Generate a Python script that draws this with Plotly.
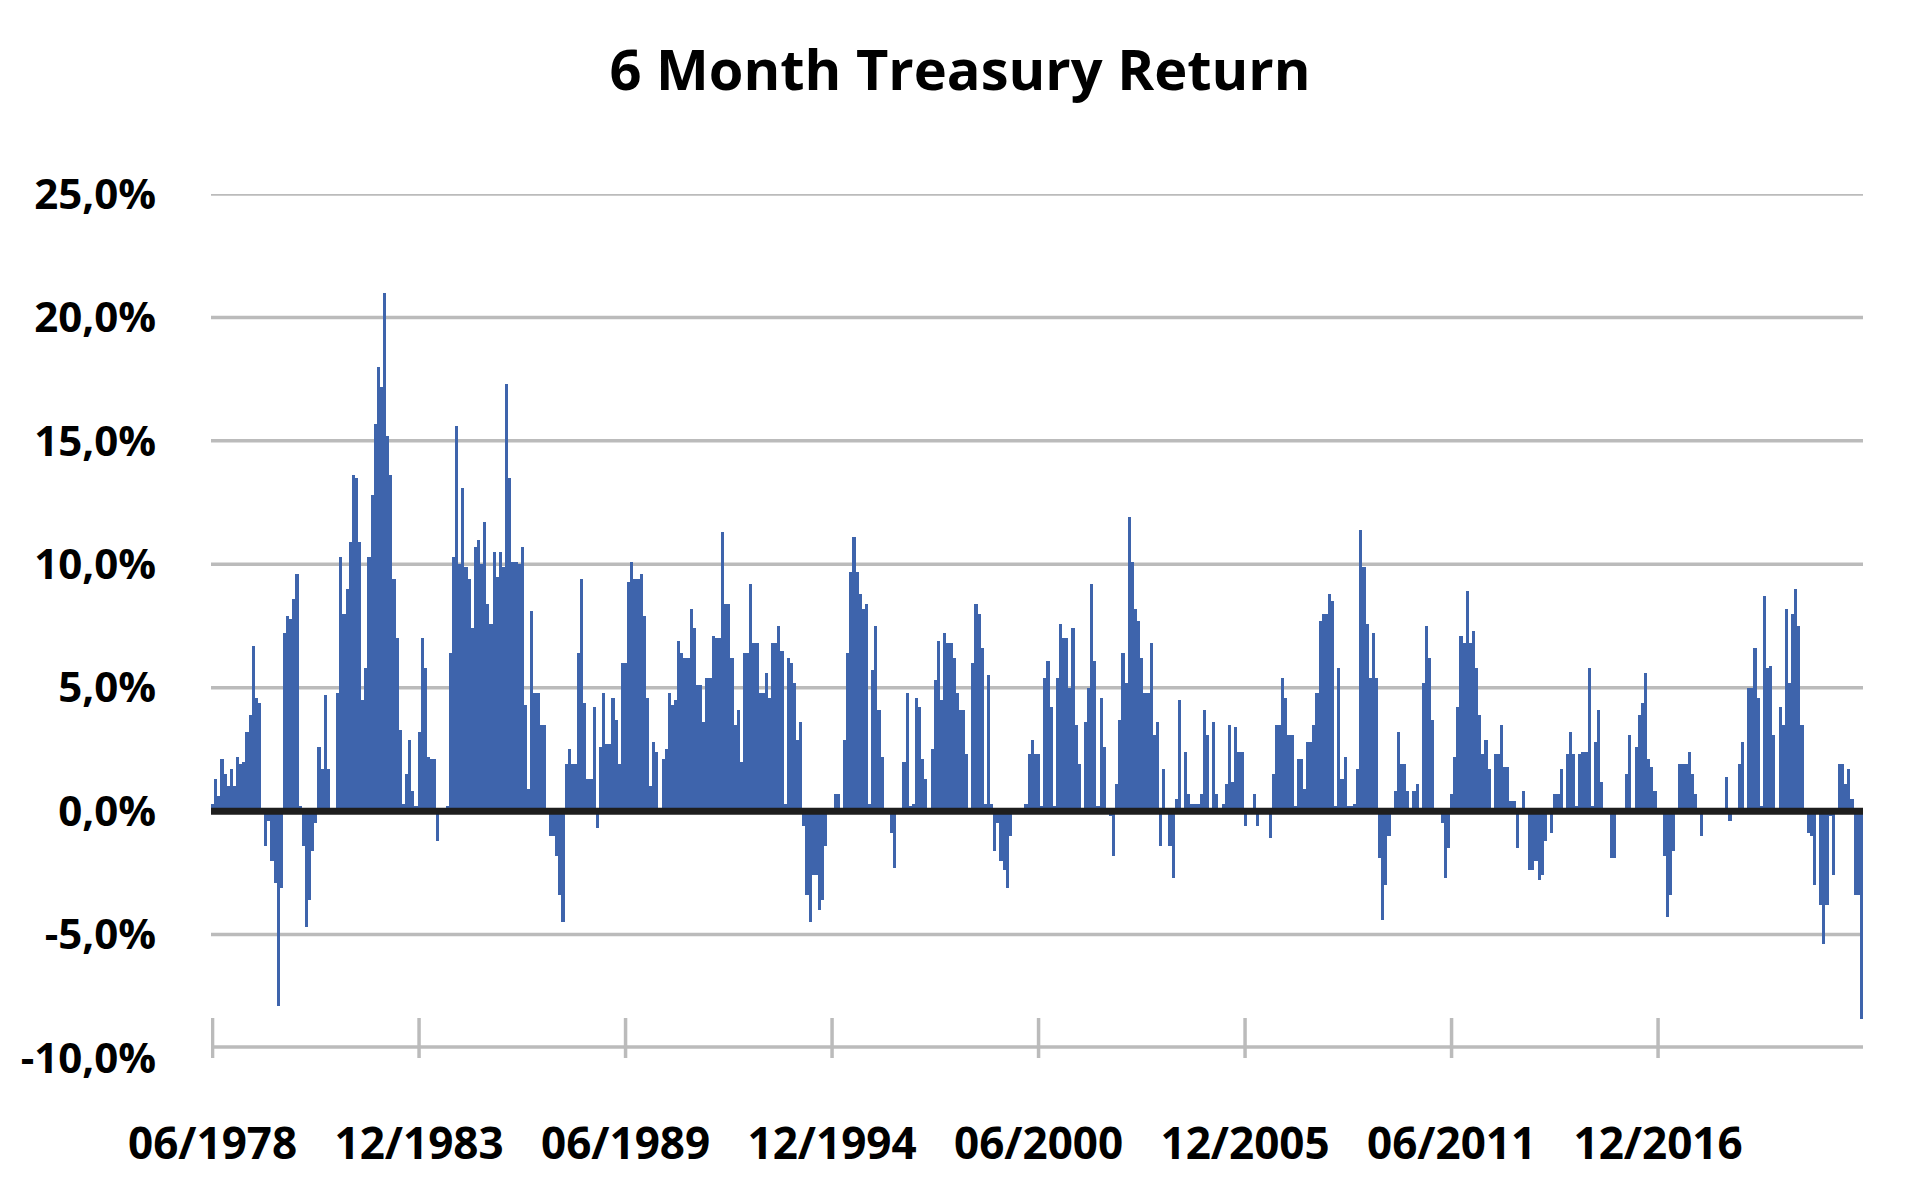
import pandas as pd
import plotly.graph_objects as go

# Monthly 6-month treasury return (%), 06/1978 .. 05/2022
Y1978 = [0.3, 1.3, 0.6, 2.1, 1.5, 1.0, 1.7]
Y1979 = [1.0, 2.2, 1.9, 2.0, 3.2, 3.9, 6.7, 4.6, 4.4, 0.1, -1.4, -0.4]
Y1980 = [-2.0, -2.9, -7.9, -3.1, 7.2, 7.9, 7.8, 8.6, 9.6, 0.2, -1.4, -4.7]
Y1981 = [-3.6, -1.6, -0.5, 2.6, 1.7, 4.7, 1.7, 0.1, 0.1, 4.8, 10.3, 8.0]
Y1982 = [9.0, 10.9, 13.6, 13.5, 10.9, 4.5, 5.8, 10.3, 12.8, 15.7, 18.0, 17.2]
Y1983 = [21.0, 15.2, 13.6, 9.4, 7.0, 3.3, 0.3, 1.5, 2.9, 0.8, 0.2, 3.2]
Y1984 = [7.0, 5.8, 2.2, 2.1, 2.1, -1.2, 0.1, 0.1, 0.2, 6.4, 10.3, 15.6]
Y1985 = [10.0, 13.1, 9.9, 9.4, 7.4, 10.7, 11.0, 10.0, 11.7, 8.4, 7.6, 10.5]
Y1986 = [9.5, 10.5, 9.9, 17.3, 13.5, 10.1, 10.1, 10.0, 10.7, 4.3, 0.9, 8.1]
Y1987 = [4.8, 4.8, 3.5, 3.5, 0.0, -1.0, -1.0, -1.8, -3.4, -4.5, 1.9, 2.5]
Y1988 = [1.9, 1.9, 6.4, 9.4, 4.4, 1.3, 1.3, 4.2, -0.7, 2.6, 4.8, 2.7]
Y1989 = [2.7, 4.6, 3.7, 1.9, 6.0, 6.0, 9.3, 10.1, 9.4, 9.4, 9.6, 7.9]
Y1990 = [4.6, 1.0, 2.8, 2.4, 0.1, 2.1, 2.5, 4.8, 4.3, 4.5, 6.9, 6.4]
Y1991 = [6.2, 6.2, 8.2, 7.4, 5.1, 5.1, 3.6, 5.4, 5.4, 7.1, 7.0, 7.0]
Y1992 = [11.3, 8.4, 8.4, 6.2, 3.5, 4.1, 2.0, 6.4, 6.4, 9.2, 6.8, 6.8]
Y1993 = [4.8, 4.8, 5.6, 4.6, 6.8, 6.8, 7.5, 6.5, 0.3, 6.2, 6.0, 5.2]
Y1994 = [2.9, 3.6, -0.6, -3.4, -4.5, -2.6, -2.6, -4.0, -3.6, -1.4, 0.0, 0.0]
Y1995 = [0.7, 0.7, 0.1, 2.9, 6.4, 9.7, 11.1, 9.7, 8.8, 8.2, 8.4, 0.3]
Y1996 = [5.7, 7.5, 4.1, 2.2, 0.0, 0.0, -0.9, -2.3, 0.0, 0.0, 2.0, 4.8]
Y1997 = [0.2, 0.3, 4.6, 4.2, 2.1, 1.3, 0.1, 2.5, 5.3, 6.9, 4.5, 7.2]
Y1998 = [6.8, 6.8, 6.2, 4.8, 4.1, 4.1, 2.3, 0.1, 6.0, 8.4, 8.0, 6.6]
Y1999 = [0.3, 5.5, 0.3, -1.6, -0.5, -2.0, -2.4, -3.1, -1.0, 0.0, 0.0, 0.0]
Y2000 = [0.0, 0.3, 2.3, 2.9, 2.3, 2.3, 0.2, 5.4, 6.1, 4.2, 0.2, 5.4]
Y2001 = [7.6, 7.0, 7.0, 5.0, 7.4, 3.5, 1.9, 0.1, 3.6, 5.0, 9.2, 6.1]
Y2002 = [0.2, 4.6, 2.6, 0.0, -0.2, -1.8, 1.1, 3.7, 6.4, 5.2, 11.9, 10.1]
Y2003 = [8.2, 7.7, 6.2, 4.8, 4.8, 6.8, 3.1, 3.6, -1.4, 1.7, 0.0, -1.4]
Y2004 = [-2.7, 0.5, 4.5, 0.1, 2.4, 0.7, 0.3, 0.3, 0.3, 0.7, 4.1, 3.1]
Y2005 = [0.1, 3.6, 0.7, 0.1, 0.3, 1.1, 3.5, 1.2, 3.4, 2.4, 2.4, -0.6]
Y2006 = [0.0, 0.0, 0.7, -0.6, 0.0, 0.0, 0.0, -1.1, 1.5, 3.5, 3.5, 5.4]
Y2007 = [4.6, 3.1, 3.1, 0.2, 2.1, 2.1, 0.9, 2.8, 2.8, 3.5, 4.8, 7.7]
Y2008 = [8.0, 8.0, 8.8, 8.5, 0.2, 5.8, 1.3, 2.2, 0.2, 0.2, 0.3, 1.7]
Y2009 = [11.4, 9.9, 7.6, 5.4, 7.2, 5.4, -1.9, -4.4, -3.0, -1.0, 0.0, 0.8]
Y2010 = [3.2, 1.9, 1.9, 0.8, 0.0, 0.8, 1.1, 0.0, 5.2, 7.5, 6.2, 3.7]
Y2011 = [0.0, 0.0, -0.5, -2.7, -1.5, 0.7, 2.2, 4.2, 7.1, 6.8, 8.9, 6.8]
Y2012 = [7.3, 5.8, 3.9, 2.3, 2.9, 1.7, 0.1, 2.3, 2.3, 3.5, 1.8, 1.8]
Y2013 = [0.4, 0.4, -1.5, 0.0, 0.8, 0.0, -2.4, -2.4, -2.0, -2.8, -2.6, -1.2]
Y2014 = [0.0, -0.9, 0.7, 0.7, 1.7, 0.0, 2.3, 3.2, 2.3, 0.2, 2.3, 2.4]
Y2015 = [2.4, 5.8, 0.2, 2.8, 4.1, 1.2, 0.0, 0.0, -1.9, -1.9, 0.0, 0.0]
Y2016 = [0.0, 1.5, 3.1, 0.1, 2.6, 3.9, 4.4, 5.6, 2.1, 1.8, 0.8, 0.0]
Y2017 = [0.0, -1.8, -4.3, -3.4, -1.6, 0.0, 1.9, 1.9, 1.9, 2.4, 1.5, 0.7]
Y2018 = [0.0, -1.0, 0.0, 0.0, 0.0, 0.0, 0.0, 0.0, 0.0, 1.4, -0.4, 0.0]
Y2019 = [0.0, 1.9, 2.8, 0.1, 5.0, 5.0, 6.6, 4.6, 0.2, 8.7, 5.8, 5.9]
Y2020 = [3.1, 0.1, 4.2, 3.5, 8.2, 5.2, 8.0, 9.0, 7.5, 3.5, 0.0, -0.9]
Y2021 = [-1.0, -3.0, 0.0, -3.8, -5.4, -3.8, -0.2, -2.6, 0.0, 1.9, 1.9, 1.1]
Y2022 = [1.7, 0.5, -3.4, -3.4, -8.4]

YEARS = [Y1978, Y1979, Y1980, Y1981, Y1982, Y1983, Y1984, Y1985, Y1986, Y1987,
         Y1988, Y1989, Y1990, Y1991, Y1992, Y1993, Y1994, Y1995, Y1996, Y1997,
         Y1998, Y1999, Y2000, Y2001, Y2002, Y2003, Y2004, Y2005, Y2006, Y2007,
         Y2008, Y2009, Y2010, Y2011, Y2012, Y2013, Y2014, Y2015, Y2016, Y2017,
         Y2018, Y2019, Y2020, Y2021, Y2022]

START_MONTH = "1978-06-01"
X_TICK_LABELS = ["06/1978", "12/1983", "06/1989", "12/1994", "06/2000",
                 "12/2005", "06/2011", "12/2016"]
Y_TICK_VALUES = [25, 20, 15, 10, 5, 0, -5, -10]
Y_TICK_LABELS = ["25,0%", "20,0%", "15,0%", "10,0%", "5,0%", "0,0%", "-5,0%", "-10,0%"]
GRID_LEVELS = [25, 20, 15, 10, 5, -5]
AXIS_LEVEL = -9.55

values = [v for year in YEARS for v in year]
n = len(values)
dates = pd.date_range(START_MONTH, periods=n, freq="MS").strftime("%m/%Y").tolist()
idx = list(range(n))
tick_idx = [dates.index(t) for t in X_TICK_LABELS]

BAR = "#3E64AC"
GRID = "#BBBBBB"
FONT = "Open Sans"

fig = go.Figure()
fig.add_trace(go.Bar(
    x=idx, y=values, marker=dict(color=BAR, line=dict(width=0)),
    customdata=dates, hovertemplate="%{customdata}: %{y:.1f}%<extra></extra>",
))

shapes = []
for g in GRID_LEVELS:
    shapes.append(dict(type="line", xref="paper", yref="y", x0=0, x1=1, y0=g, y1=g,
                       line=dict(color=GRID, width=3.5), layer="below"))
# category axis line with cross tick marks
shapes.append(dict(type="line", xref="paper", yref="y", x0=0, x1=1, y0=AXIS_LEVEL, y1=AXIS_LEVEL,
                   line=dict(color=GRID, width=3.5), layer="below"))
for t in tick_idx:
    shapes.append(dict(type="line", xref="x", yref="y", x0=t, x1=t,
                       y0=AXIS_LEVEL - 1.17, y1=AXIS_LEVEL + 1.17,
                       line=dict(color=GRID, width=3.5), layer="below"))
# zero line
shapes.append(dict(type="line", xref="paper", yref="y", x0=0, x1=1, y0=0, y1=0,
                   line=dict(color="#1E1E1E", width=7), layer="above"))

fig.update_layout(
    width=1920, height=1188,
    paper_bgcolor="white", plot_bgcolor="white",
    margin=dict(l=211, r=57, t=194, b=130),
    bargap=0.0,
    showlegend=False,
    title=dict(text="6 Month Treasury Return", x=0.5, xref="container", xanchor="center",
               y=1 - 70 / 1188, yref="container", yanchor="middle",
               font=dict(family=FONT, size=56, color="#000000", weight=700)),
    xaxis=dict(range=[-0.5, n - 0.5], showgrid=False, zeroline=False, showline=False,
               ticks="", tickmode="array", tickvals=tick_idx, ticktext=X_TICK_LABELS,
               tickfont=dict(family=FONT, size=44, color="#000000", weight=700),
               ticklabelstandoff=56),
    yaxis=dict(range=[-10, 25], showgrid=False, zeroline=False, showline=False,
               ticks="", tickmode="array", tickvals=Y_TICK_VALUES, ticktext=Y_TICK_LABELS,
               tickfont=dict(family=FONT, size=42, color="#000000", weight=700),
               ticklabelstandoff=54),
    shapes=shapes,
)

fig.write_html("out.html", config={"displayModeBar": False},
               post_script="document.body.style.margin='0';")
